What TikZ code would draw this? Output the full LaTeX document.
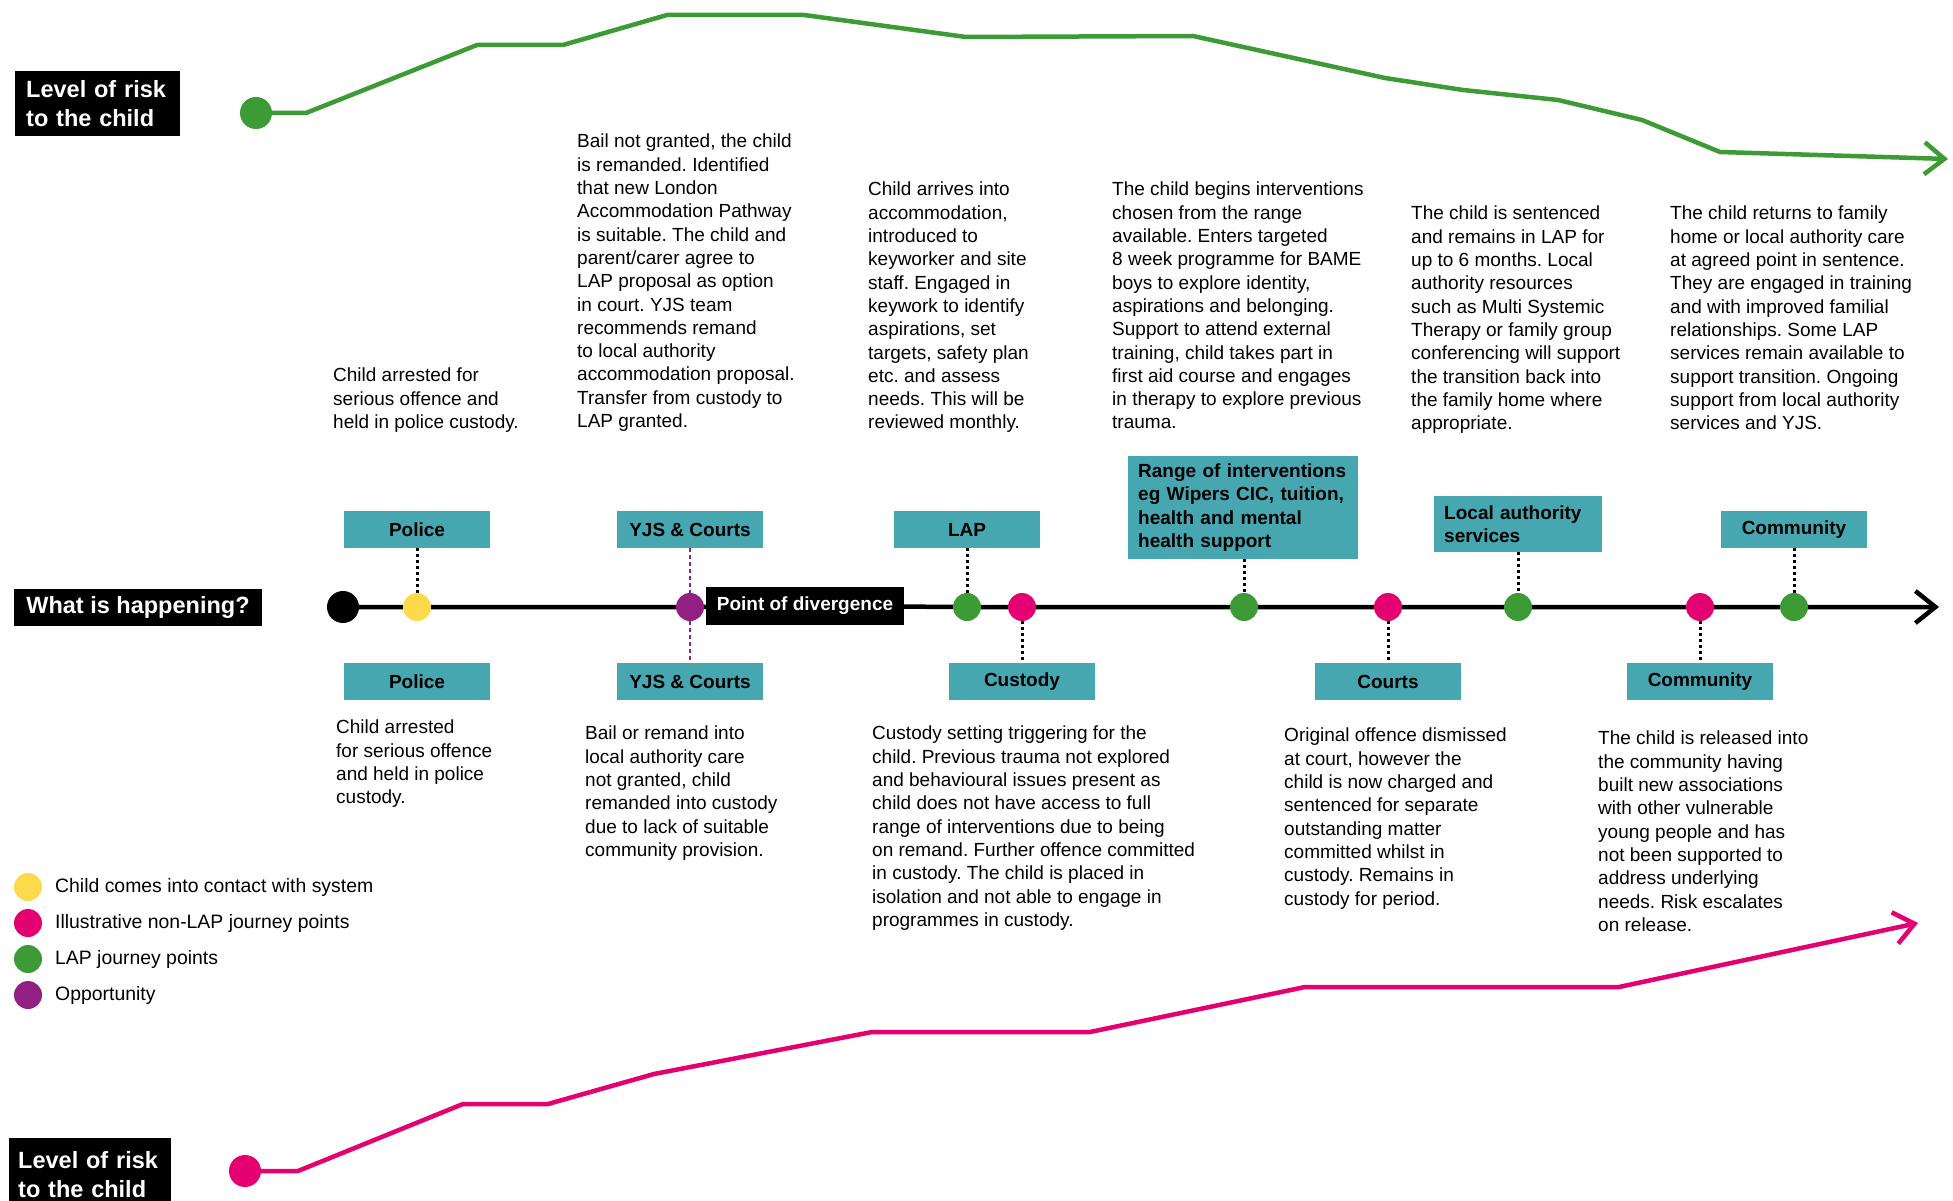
\documentclass[tikz,border=0pt]{standalone}
\usepackage{fontspec}
\setmainfont{Liberation Sans}
\usetikzlibrary{arrows.meta}
\frenchspacing

\definecolor{lapgreen}{RGB}{61,155,53}
\definecolor{nonpink}{RGB}{228,0,112}
\definecolor{boxteal}{RGB}{70,167,176}
\definecolor{dotyellow}{RGB}{253,218,76}
\definecolor{dotpurple}{RGB}{146,32,130}

\begin{document}
\begin{tikzpicture}[x=1pt,y=-1pt,
  txt/.style={inner sep=0pt,align=left,anchor=north west,font=\fontsize{19}{23.3}\selectfont},
  tag/.style={fill=boxteal,inner sep=0pt,minimum width=146pt,minimum height=37pt,font=\bfseries\fontsize{19}{23.4}\selectfont},
  widetag/.style={tag,align=left,inner xsep=10pt,anchor=north west},
  head/.style={fill=black,text=white,inner sep=0pt,align=left,font=\bfseries\fontsize{23.5}{29}\selectfont},
  pt/.style={circle,inner sep=0pt,minimum size=28pt},
  link/.style={line width=3pt,dash pattern=on 3pt off 3pt},
  plink/.style={dotpurple,line width=2pt,dash pattern=on 4pt off 3pt},
  tip/.style={-{Straight Barb[length=20pt,width=32pt]}}]
 % \draw[help lines] (0,0) grid (1953,1201);
  \useasboundingbox (0,0) rectangle (1953,1201);

  % risk to the child on LAP
  \node[head,anchor=north west,minimum width=163pt,minimum height=65pt,
        text width=143pt,inner xsep=11pt] (riskup) at (15,71) {Level of risk\\to the child};
  \node[pt,fill=lapgreen,minimum size=32pt] (g0) at (256,113) {};
  \coordinate (gend) at (1948,159);
  \draw[lapgreen,line width=4.5pt,line join=round,tip] (g0) -- (306,113) -- (477,45) -- (563,45)
    -- (667,15) -- (804,15) -- (966,37) -- (1193,36) -- (1385,78) -- (1463,90)
    -- (1558,100) -- (1642,120) -- (1720,152) -- (gend);

  % risk to the child without LAP
  \node[head,anchor=north west,minimum width=162pt,minimum height=72pt,
        text width=144pt,inner xsep=9pt] (riskdown) at (9,1138) {Level of risk\\to the child};
  \node[pt,fill=nonpink,minimum size=32pt] (p0) at (245,1171) {};
  \coordinate (pend) at (1918,923);
  \draw[nonpink,line width=4.5pt,line join=round,tip] (p0) -- (298,1171) -- (463,1104) -- (548,1104)
    -- (654,1074) -- (872,1032) -- (1090,1032) -- (1305,987) -- (1619,987) -- (pend);

  % timeline
  \node[head,minimum width=248pt,minimum height=37pt] (what) at (138,607) {What is happening?};
  \node[pt,fill=black,minimum size=32pt] (n0) at (343,607) {};
  \node[pt,fill=dotyellow] (n1) at (417,607) {};
  \node[pt,fill=dotpurple] (n2) at (690,607) {};
  \node[head,font=\bfseries\fontsize{19}{23.4}\selectfont,minimum width=198pt,minimum height=38pt]
    (div) at (805,606) {Point of divergence};
  \node[pt,fill=lapgreen] (n3) at (967,607) {};
  \node[pt,fill=nonpink] (n4) at (1022,607) {};
  \node[pt,fill=lapgreen] (n5) at (1244,607) {};
  \node[pt,fill=nonpink] (n6) at (1388,607) {};
  \node[pt,fill=lapgreen] (n7) at (1518,607) {};
  \node[pt,fill=nonpink] (n8) at (1700,607) {};
  \node[pt,fill=lapgreen] (n9) at (1794,607) {};
  \coordinate (tend) at (1939,607);
  \draw[line width=4.5pt,tip] (n0) -- (n1) -- (n2) -- (div) -- (n3) -- (n4) -- (n5)
    -- (n6) -- (n7) -- (n8) -- (n9) -- (tend);

  % boxes above the line
  \node[tag] (t1) at (417,529.5) {Police};
  \node[tag] (t2) at (690,529.5) {YJS \& Courts};
  \node[tag] (t3) at (967,529.5) {LAP};
  \node[widetag,minimum width=230pt,minimum height=103pt,text width=210pt] (t4) at (1128,456)
    {Range of interventions\\eg Wipers CIC, tuition,\\health and mental\\health support};
  \node[widetag,minimum width=168pt,minimum height=56pt,text width=148pt,inner xsep=9pt] (t5) at (1434,496)
    {Local authority\\services};
  \node[tag] (t6) at (1794,529.5) {Community};

  % boxes below the line
  \node[tag] (b1) at (417,681.5) {Police};
  \node[tag] (b2) at (690,681.5) {YJS \& Courts};
  \node[tag] (b3) at (1022,681.5) {Custody};
  \node[tag] (b4) at (1388,681.5) {Courts};
  \node[tag] (b5) at (1700,681.5) {Community};

  \draw[link] (t1) -- (n1);
  \draw[plink] (t2) -- (n2);
  \draw[plink] (n2) -- (b2);
  \draw[link] (t3) -- (n3);
  \draw[link] (n4) -- (b3);
  \draw[link] (t4.south -| n5) -- (n5);
  \draw[link] (n6) -- (b4);
  \draw[link] (t5.south -| n7) -- (n7);
  \draw[link] (n8) -- (b5);
  \draw[link] (t6) -- (n9);

  % texts above
  \node[txt] (a1) at (333,368) {Child arrested for\\serious offence and\\held in police custody.};
  \node[txt] (a2) at (577,134) {Bail not granted, the child\\is remanded. Identified\\that new London\\Accommodation Pathway\\is suitable. The child and\\parent/carer agree to\\LAP proposal as option\\in court. YJS team\\recommends remand\\to local authority\\accommodation proposal.\\Transfer from custody to\\LAP granted.};
  \node[txt] (a3) at (868,182) {Child arrives into\\accommodation,\\introduced to\\keyworker and site\\staff. Engaged in\\keywork to identify\\aspirations, set\\targets, safety plan\\etc. and assess\\needs. This will be\\reviewed monthly.};
  \node[txt] (a4) at (1112,182) {The child begins interventions\\chosen from the range\\available. Enters targeted\\8 week programme for BAME\\boys to explore identity,\\aspirations and belonging.\\Support to attend external\\training, child takes part in\\first aid course and engages\\in therapy to explore previous\\trauma.};
  \node[txt] (a5) at (1411,206) {The child is sentenced\\and remains in LAP for\\up to 6 months. Local\\authority resources\\such as Multi Systemic\\Therapy or family group\\conferencing will support\\the transition back into\\the family home where\\appropriate.};
  \node[txt] (a6) at (1670,206) {The child returns to family\\home or local authority care\\at agreed point in sentence.\\They are engaged in training\\and with improved familial\\relationships. Some LAP\\services remain available to\\support transition. Ongoing\\support from local authority\\services and YJS.};

  % texts below
  \node[txt] (c1) at (336,720) {Child arrested\\for serious offence\\and held in police\\custody.};
  \node[txt] (c2) at (585,726) {Bail or remand into\\local authority care\\not granted, child\\remanded into custody\\due to lack of suitable\\community provision.};
  \node[txt] (c3) at (872,726) {Custody setting triggering for the\\child. Previous trauma not explored\\and behavioural issues present as\\child does not have access to full\\range of interventions due to being\\on remand. Further offence committed\\in custody. The child is placed in\\isolation and not able to engage in\\programmes in custody.};
  \node[txt] (c4) at (1284,728) {Original offence dismissed\\at court, however the\\child is now charged and\\sentenced for separate\\outstanding matter\\committed whilst in\\custody. Remains in\\custody for period.};
  \node[txt] (c5) at (1598,731) {The child is released into\\the community having\\built new associations\\with other vulnerable\\young people and has\\not been supported to\\address underlying\\needs. Risk escalates\\on release.};

  % legend
  \node[pt,fill=dotyellow] (l1) at (28,887) {};
  \node[pt,fill=nonpink] (l2) at (28,923) {};
  \node[pt,fill=lapgreen] (l3) at (28,959) {};
  \node[pt,fill=dotpurple] (l4) at (28,995) {};
  \node[txt,anchor=west,font=\fontsize{19.4}{23.3}\selectfont] at (55,887) {Child comes into contact with system};
  \node[txt,anchor=west,font=\fontsize{19.4}{23.3}\selectfont] at (55,923) {Illustrative non-LAP journey points};
  \node[txt,anchor=west,font=\fontsize{19.4}{23.3}\selectfont] at (55,959) {LAP journey points};
  \node[txt,anchor=west,font=\fontsize{19.4}{23.3}\selectfont] at (55,995) {Opportunity};
\end{tikzpicture}
\end{document}
